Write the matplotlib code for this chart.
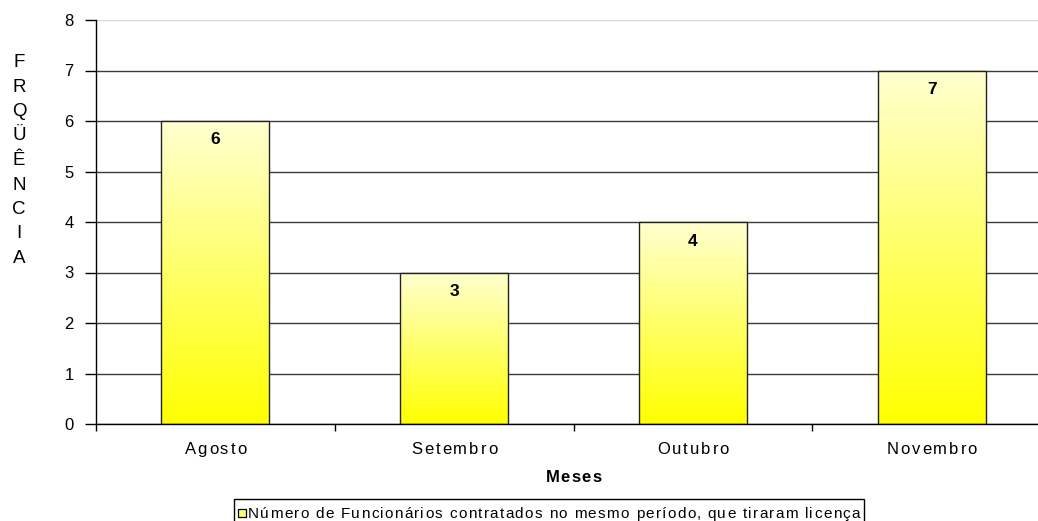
import numpy as np
import matplotlib
matplotlib.use("Agg")
import matplotlib.pyplot as plt
from matplotlib import font_manager
from matplotlib.font_manager import FontProperties
from matplotlib.ft2font import FT2Font
from matplotlib.transforms import ScaledTranslation
from matplotlib.patches import Rectangle

months = ["Agosto", "Setembro", "Outubro", "Novembro"]
counts = [6, 3, 4, 7]
yticks = [0, 1, 2, 3, 4, 5, 6, 7, 8]
ylabel_text = "FRQÜÊNCIA"
xlabel_text = "Meses"
legend_text = "Número de Funcionários contratados no mesmo período, que tiraram licença"

FAMILY = "Liberation Sans"
plt.rcParams["font.family"] = [FAMILY, "DejaVu Sans"]

W, H = 1038, 521
DPI = 100
fig = plt.figure(figsize=(W / DPI, H / DPI), dpi=DPI)


def fx(px):
    return px / W


def fy(py):
    return 1 - py / H


# the plotting area runs slightly past the right edge of the canvas
ax = fig.add_axes([fx(96), fy(424), (1051 - 96) / W, (424 - 20) / H])


def glyph_metrics(s, prop):
    """Advance width and ink centre offset (pixels) of every character."""
    f = FT2Font(font_manager.findfont(prop))
    f.set_size(prop.get_size_in_points(), DPI)
    out = []
    for c in s:
        g = f.load_char(ord(c))
        adv = g.linearHoriAdvance / 65536.0
        bx = g.horiBearingX / 64.0
        ink = g.width / 64.0
        out.append((adv, bx + ink / 2 if ink > 0 else adv / 2))
    return out


def tracked_text(x, y, s, size, tracking, transform, weight="normal",
                 ha="center", dy_px=0.0):
    """Draw a string glyph by glyph with extra spacing between letters."""
    prop = FontProperties(family=FAMILY, size=size, weight=weight)
    met = glyph_metrics(s, prop)
    total = sum(m[0] for m in met) + tracking * (len(s) - 1)
    off = {"center": -total / 2, "left": 0.0, "right": -total}[ha]
    for c, (adv, cx) in zip(s, met):
        if c != " ":
            tr = transform + ScaledTranslation((off + cx) / DPI, dy_px / DPI,
                                               fig.dpi_scale_trans)
            fig.text(x, y, c, fontproperties=prop, ha="center", va="baseline",
                     transform=tr, color="black")
        off += adv + tracking
    return total


x = np.arange(len(months))
bars = ax.bar(x, counts, width=0.452, facecolor="none", edgecolor="#222222",
              linewidth=1.0, zorder=3)

# vertical gradient: pale yellow at the top of each bar, saturated yellow at the base
grad = np.linspace(0, 1, 256).reshape(-1, 1, 1)
top = np.array([1.0, 1.0, 0.82])
bottom = np.array([1.0, 1.0, 0.0])
img = bottom + (top - bottom) * grad
img = np.repeat(img, 2, axis=1)
for b in bars:
    x0, y0 = b.get_x(), b.get_y()
    w, h = b.get_width(), b.get_height()
    im = ax.imshow(img, extent=(x0, x0 + w, y0, y0 + h), origin="lower",
                   aspect="auto", zorder=2, interpolation="bilinear")
    im.set_clip_path(b)

for xi, v in zip(x, counts):
    ax.annotate(str(v), (xi, v), xytext=(0, -19), textcoords="offset pixels",
                ha="center", va="center", fontsize=12.5, fontweight="bold", zorder=4)

ax.set_xlim(-0.5, len(months) - 0.5)
ax.set_ylim(0, 8)
ax.set_yticks(yticks)
ax.set_yticklabels([str(t) for t in yticks], fontsize=12)
ax.yaxis.grid(True, color="#3c3c3c", linewidth=1.0)
ax.get_ygridlines()[-1].set_color("#d8d8d8")
ax.set_axisbelow(True)

ax.set_xticks(x)
ax.set_xticklabels([])
ax.set_xticks(np.arange(-0.5, len(months)), minor=True)
ax.tick_params(axis="x", which="major", length=0)
ax.tick_params(axis="x", which="minor", length=5, direction="out", width=1.0)
ax.tick_params(axis="y", length=8, direction="out", pad=8, width=1.0)

for s in ["top", "right"]:
    ax.spines[s].set_visible(False)
ax.spines["left"].set_linewidth(1.0)
ax.spines["bottom"].set_linewidth(1.0)

# month labels under each bar
xt = ax.get_xaxis_transform()
for xi, m in zip(x, months):
    tracked_text(xi, 0, m, 12, 2.0, xt, dy_px=-30)

# axis title
tracked_text(0.5, 0, xlabel_text, 12, 1.2, ax.transAxes, weight="bold", dy_px=-58)

# vertical title, one letter per line
y_first, y_pitch = 67, 24.5
for i, c in enumerate(ylabel_text):
    fig.text(fx(19), fy(y_first + i * y_pitch), c, ha="center", va="baseline",
             fontsize=13.5)

# legend box with a swatch and tracked caption
lx0, ly0, lbase = 234, 499, 518
tw = tracked_text(fx(lx0 + 14), fy(lbase), legend_text, 11, 1.3,
                  fig.transFigure, ha="left")
fig.patches.append(Rectangle((fx(lx0), fy(ly0 + 24)), (tw + 18) / W, 24 / H,
                             transform=fig.transFigure, facecolor="white",
                             edgecolor="black", linewidth=1.0, zorder=0))
fig.patches.append(Rectangle((fx(lx0 + 4), fy(517)), 8 / W, 8 / H,
                             transform=fig.transFigure, facecolor="#ffff70",
                             edgecolor="black", linewidth=0.9, zorder=1))

fig.savefig("out.png", dpi=DPI)
